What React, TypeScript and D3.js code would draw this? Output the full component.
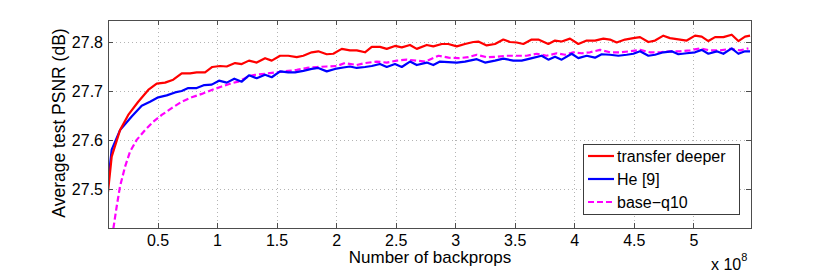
import React, { useEffect, useRef } from 'react'
import * as d3 from 'd3'

// x in units of 1e8 backprops, y = average test PSNR (dB)
const transferDeeper: [number, number][] = [
  [0.08, 27.495], [0.111, 27.567], [0.181, 27.621], [0.25, 27.652], [0.334, 27.679],
  [0.418, 27.703], [0.489, 27.716], [0.559, 27.718], [0.628, 27.724], [0.699, 27.737],
  [0.769, 27.737], [0.825, 27.739], [0.895, 27.739], [0.956, 27.75], [1.021, 27.752],
  [1.077, 27.751], [1.147, 27.758], [1.203, 27.756], [1.264, 27.763], [1.329, 27.759],
  [1.399, 27.768], [1.455, 27.763], [1.525, 27.773], [1.594, 27.773], [1.665, 27.77],
  [1.72, 27.773], [1.791, 27.78], [1.846, 27.782], [1.917, 27.776], [1.972, 27.777],
  [2.043, 27.787], [2.112, 27.784], [2.169, 27.784], [2.238, 27.78], [2.295, 27.791],
  [2.364, 27.791], [2.421, 27.787], [2.49, 27.793], [2.547, 27.79], [2.616, 27.795],
  [2.673, 27.787], [2.757, 27.795], [2.812, 27.792], [2.883, 27.797], [2.938, 27.797],
  [3.009, 27.792], [3.078, 27.797], [3.148, 27.801], [3.19, 27.802], [3.26, 27.794],
  [3.33, 27.797], [3.4, 27.806], [3.456, 27.801], [3.512, 27.8], [3.568, 27.797],
  [3.638, 27.806], [3.694, 27.806], [3.778, 27.797], [3.834, 27.804], [3.89, 27.802],
  [3.96, 27.808], [4.03, 27.797], [4.1, 27.804], [4.17, 27.804], [4.24, 27.808],
  [4.296, 27.806], [4.352, 27.8], [4.422, 27.806], [4.492, 27.809], [4.548, 27.811],
  [4.618, 27.801], [4.674, 27.804], [4.744, 27.814], [4.8, 27.809], [4.884, 27.806],
  [4.94, 27.804], [5.01, 27.814], [5.066, 27.812], [5.122, 27.803], [5.178, 27.811],
  [5.248, 27.811], [5.318, 27.816], [5.374, 27.803], [5.43, 27.812], [5.472, 27.814],
]

const he9: [number, number][] = [
  [0.08, 27.512], [0.111, 27.581], [0.181, 27.621], [0.279, 27.649], [0.363, 27.671],
  [0.433, 27.679], [0.502, 27.688], [0.573, 27.692], [0.643, 27.698], [0.699, 27.701],
  [0.754, 27.707], [0.825, 27.707], [0.889, 27.713], [0.951, 27.714], [1.012, 27.722],
  [1.077, 27.718], [1.141, 27.726], [1.203, 27.72], [1.264, 27.733], [1.329, 27.727],
  [1.399, 27.734], [1.455, 27.729], [1.525, 27.741], [1.594, 27.739], [1.651, 27.739],
  [1.72, 27.742], [1.791, 27.746], [1.846, 27.748], [1.917, 27.741], [1.986, 27.746],
  [2.056, 27.749], [2.112, 27.751], [2.169, 27.748], [2.238, 27.75], [2.295, 27.752],
  [2.364, 27.756], [2.421, 27.75], [2.49, 27.756], [2.547, 27.75], [2.616, 27.761],
  [2.673, 27.754], [2.757, 27.759], [2.812, 27.754], [2.868, 27.761], [2.938, 27.76],
  [3.009, 27.759], [3.078, 27.761], [3.177, 27.766], [3.246, 27.759], [3.33, 27.763],
  [3.4, 27.767], [3.484, 27.763], [3.554, 27.763], [3.624, 27.767], [3.722, 27.773],
  [3.778, 27.765], [3.834, 27.771], [3.89, 27.765], [3.974, 27.777], [4.03, 27.768],
  [4.1, 27.773], [4.17, 27.769], [4.226, 27.776], [4.296, 27.775], [4.366, 27.773],
  [4.436, 27.775], [4.492, 27.777], [4.548, 27.782], [4.618, 27.773], [4.674, 27.775],
  [4.744, 27.78], [4.814, 27.782], [4.87, 27.776], [4.94, 27.778], [5.01, 27.78],
  [5.066, 27.785], [5.122, 27.777], [5.192, 27.782], [5.248, 27.777], [5.318, 27.788],
  [5.374, 27.777], [5.43, 27.782], [5.472, 27.782],
]

const baseQ10: [number, number][] = [
  [0.125, 27.42], [0.153, 27.465], [0.181, 27.506], [0.223, 27.546], [0.265, 27.577],
  [0.321, 27.601], [0.391, 27.621], [0.46, 27.638], [0.531, 27.652], [0.615, 27.666],
  [0.699, 27.679], [0.783, 27.688], [0.867, 27.695], [0.951, 27.703], [1.035, 27.71],
  [1.119, 27.717], [1.174, 27.72], [1.231, 27.727], [1.273, 27.732], [1.315, 27.734],
  [1.399, 27.736], [1.525, 27.74], [1.594, 27.742], [1.665, 27.744], [1.749, 27.748],
  [1.833, 27.75], [1.917, 27.751], [2.001, 27.752], [2.07, 27.758], [2.169, 27.754],
  [2.238, 27.758], [2.337, 27.761], [2.421, 27.759], [2.505, 27.763], [2.589, 27.765],
  [2.673, 27.763], [2.744, 27.761], [2.856, 27.773], [2.94, 27.769], [3.022, 27.768],
  [3.106, 27.77], [3.177, 27.775], [3.26, 27.77], [3.344, 27.771], [3.428, 27.773],
  [3.498, 27.773], [3.596, 27.773], [3.68, 27.777], [3.764, 27.773], [3.848, 27.778],
  [3.918, 27.775], [3.988, 27.78], [4.058, 27.778], [4.128, 27.78], [4.212, 27.785],
  [4.296, 27.78], [4.38, 27.78], [4.464, 27.782], [4.548, 27.785], [4.632, 27.78],
  [4.716, 27.78], [4.8, 27.782], [4.884, 27.782], [4.968, 27.784], [5.052, 27.788],
  [5.136, 27.784], [5.22, 27.784], [5.304, 27.787], [5.388, 27.784], [5.458, 27.788],
]

const xTicks = [0.5, 1, 1.5, 2, 2.5, 3, 3.5, 4, 4.5, 5]
const yTicks = [27.5, 27.6, 27.7, 27.8]
const legendLabels = ['transfer deeper', 'He [9]', 'base\u2212q10']

function App() {
  const ref = useRef<SVGSVGElement>(null)

  useEffect(() => {
    const svg = d3.select(ref.current)
    svg.selectAll('*').remove()

    const left = 108, right = 751, top = 20, bottom = 228
    const font = 'Arial, "Liberation Sans", Helvetica, sans-serif'

    const x = d3.scaleLinear().domain([0.08, 5.48]).range([left, right])
    const y = d3.scaleLinear().domain([27.421, 27.846]).range([bottom, top])

    svg.append('rect')
      .attr('x', left).attr('y', top)
      .attr('width', right - left).attr('height', bottom - top)
      .attr('fill', '#fff')

    // dotted grid
    const grid = svg.append('g')
    grid.selectAll('line.gx').data(xTicks).enter().append('line')
      .attr('x1', d => x(d)).attr('x2', d => x(d))
      .attr('y1', top).attr('y2', bottom)
    grid.selectAll('line.gy').data(yTicks).enter().append('line')
      .attr('y1', d => y(d)).attr('y2', d => y(d))
      .attr('x1', left).attr('x2', right)
    grid.selectAll('line')
      .attr('stroke', '#b4b4b4').attr('stroke-width', 1)
      .attr('stroke-dasharray', '1,3')
      .attr('shape-rendering', 'crispEdges')

    svg.append('clipPath').attr('id', 'plot-clip')
      .append('rect')
      .attr('x', left).attr('y', top)
      .attr('width', right - left).attr('height', bottom - top)

    const line = d3.line<[number, number]>()
      .x(d => x(d[0]))
      .y(d => y(d[1]))

    const series = [
      { data: baseQ10, color: '#ff00ff', dash: '6,3' },
      { data: he9, color: '#0000ff', dash: null },
      { data: transferDeeper, color: '#ff0000', dash: null },
    ]
    const lines = svg.append('g').attr('clip-path', 'url(#plot-clip)')
    series.forEach(s => {
      lines.append('path')
        .datum(s.data)
        .attr('fill', 'none')
        .attr('stroke', s.color)
        .attr('stroke-width', 2.2)
        .attr('stroke-linejoin', 'round')
        .attr('stroke-dasharray', s.dash)
        .attr('d', line)
    })

    // axes box with inward ticks
    const axisColor = '#4d4d4d'
    const tickLen = 5
    const box = svg.append('g').attr('stroke', axisColor).attr('stroke-width', 1)
      .attr('shape-rendering', 'crispEdges')
    box.append('rect')
      .attr('x', left).attr('y', top)
      .attr('width', right - left).attr('height', bottom - top)
      .attr('fill', 'none')
    xTicks.forEach(t => {
      box.append('line').attr('x1', x(t)).attr('x2', x(t)).attr('y1', bottom).attr('y2', bottom - tickLen)
      box.append('line').attr('x1', x(t)).attr('x2', x(t)).attr('y1', top).attr('y2', top + tickLen)
    })
    yTicks.forEach(t => {
      box.append('line').attr('y1', y(t)).attr('y2', y(t)).attr('x1', left).attr('x2', left + tickLen)
      box.append('line').attr('y1', y(t)).attr('y2', y(t)).attr('x1', right).attr('x2', right - tickLen)
    })

    // tick labels
    const labels = svg.append('g').attr('font-family', font).attr('font-size', 16).attr('fill', '#000')
    labels.selectAll('text.xt').data(xTicks).enter().append('text')
      .attr('x', d => x(d)).attr('y', 246)
      .attr('text-anchor', 'middle')
      .text(d => d3.format('')(d))
    labels.selectAll('text.yt').data(yTicks).enter().append('text')
      .attr('x', left - 5).attr('y', d => y(d) + 5.5)
      .attr('text-anchor', 'end')
      .text(d => d.toFixed(1))

    labels.append('text')
      .attr('x', 430).attr('y', 263)
      .attr('font-size', 17)
      .attr('text-anchor', 'middle')
      .text('Number of backprops')

    const exp = labels.append('text').attr('x', 711).attr('y', 270)
    exp.append('tspan').text('x 10')
    exp.append('tspan').attr('dy', -9).attr('font-size', 11).text('8')

    labels.append('text')
      .attr('transform', 'translate(65,123) rotate(-90)')
      .attr('font-size', 17.5)
      .attr('text-anchor', 'middle')
      .text('Average test PSNR (dB)')

    // legend
    const lg = svg.append('g')
    lg.append('rect')
      .attr('x', 583).attr('y', 144)
      .attr('width', 156).attr('height', 70)
      .attr('fill', '#fff').attr('stroke', '#3c3c3c').attr('stroke-width', 1)
      .attr('shape-rendering', 'crispEdges')
    const legendColors = ['#ff0000', '#0000ff', '#ff00ff']
    const legendDash = [null, null, '6,3']
    legendLabels.forEach((label, i) => {
      const ly = 156 + i * 23
      lg.append('line')
        .attr('x1', 588).attr('x2', 614)
        .attr('y1', ly).attr('y2', ly)
        .attr('stroke', legendColors[i]).attr('stroke-width', 2.2)
        .attr('stroke-dasharray', legendDash[i])
      lg.append('text')
        .attr('x', 617).attr('y', ly + 5.5)
        .attr('font-family', font).attr('font-size', 16)
        .text(label)
    })
  }, [])

  return (
    <svg ref={ref} width={830} height={273}
      style={{ position: 'absolute', left: 0, top: 0, background: '#fff' }} />
  )
}

export default App
